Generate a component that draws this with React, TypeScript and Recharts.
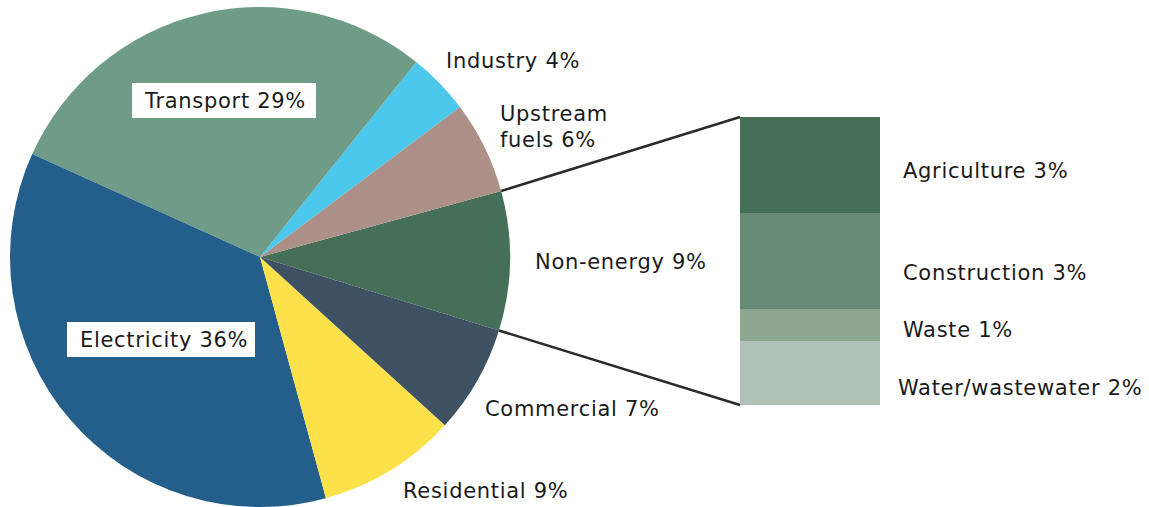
import { PieChart, Pie, Cell, BarChart, Bar, XAxis, YAxis } from 'recharts'

// main pie: share of emissions by sector (%)
const SECTORS = ['Non-energy', 'Upstream fuels', 'Industry', 'Transport', 'Electricity', 'Residential', 'Commercial']
const SHARES = [9, 6, 4, 29, 36, 9, 7]
const SECTOR_COLORS = ['#466f57', '#ad9087', '#4cc8ec', '#6e9c88', '#245f8b', '#fde14b', '#3e5264']

// breakdown of non-energy (%)
const SUB_NAMES = ['Agriculture', 'Construction', 'Waste', 'Water/wastewater']
const SUB_SHARES = [3, 3, 1, 2]
const SUB_COLORS = ['#466f57', '#698a74', '#8ca690', '#b0c2b7']

const W = 1149
const H = 507
const CX = 260
const CY = 257
const R = 250
const START = -17.1

const BAR_X = 740
const BAR_TOP = 117
const BAR_W = 140
const BAR_H = 288

const FONT = '"DejaVu Sans", sans-serif'
const FS = 21
const LS = 0.7

// label placement per sector: [x, baseline, box width (0 = no box)]
const LABEL_POS: [number, number, number][] = [
  [535, 269, 0],
  [500, 121, 0],
  [446, 68, 0],
  [145, 108, 184],
  [80, 347, 188],
  [403, 498, 0],
  [485, 416, 0],
]
const SUB_LABEL_POS: [number, number][] = [
  [903, 178],
  [903, 280],
  [903, 337],
  [898, 395],
]

const pieData = SECTORS.map((name, i) => ({ name, value: SHARES[i] }))
const barData = [
  Object.fromEntries(SUB_NAMES.map((n, i) => [n, SUB_SHARES[i]])),
]

function renderLabel(props: any) {
  const i = props.index
  const [x, y, boxW] = LABEL_POS[i]
  const name = SECTORS[i]
  if (name === 'Upstream fuels') {
    return (
      <text key={i} x={x} y={y} fontFamily={FONT} fontSize={FS} letterSpacing={LS} fill="#1a1a1a">
        <tspan x={x} y={y}>Upstream</tspan>
        <tspan x={x} y={y + 26}>fuels {SHARES[i]}%</tspan>
      </text>
    )
  }
  return (
    <g key={i}>
      {boxW > 0 && <rect x={x - 13} y={y - 25} width={boxW} height={35} fill="#fff" />}
      <text x={x} y={y} fontFamily={FONT} fontSize={FS} letterSpacing={LS} fill="#1a1a1a">
        {name} {SHARES[i]}%
      </text>
    </g>
  )
}

export default function App() {
  const total = SHARES.reduce((a, b) => a + b, 0)
  const a0 = (START * Math.PI) / 180
  const a1 = ((START + (SHARES[0] / total) * 360) * Math.PI) / 180
  const p0 = { x: CX + R * Math.cos(a0), y: CY - R * Math.sin(a0) }
  const p1 = { x: CX + R * Math.cos(a1), y: CY - R * Math.sin(a1) }

  return (
    <div style={{ position: 'absolute', left: 0, top: 0, width: W, height: H, background: '#fff' }}>
      <div style={{ position: 'absolute', left: 0, top: 0 }}>
        <PieChart width={W} height={H} margin={{ top: 0, right: 0, bottom: 0, left: 0 }}>
          <Pie
            data={pieData}
            dataKey="value"
            cx={CX}
            cy={CY}
            outerRadius={R}
            startAngle={START}
            endAngle={START + 360}
            stroke="none"
            label={renderLabel}
            labelLine={false}
            isAnimationActive={false}
          >
            {pieData.map((d, i) => (
              <Cell key={d.name} fill={SECTOR_COLORS[i]} />
            ))}
          </Pie>
        </PieChart>
      </div>
      <svg width={W} height={H} style={{ position: 'absolute', left: 0, top: 0, pointerEvents: 'none' }}>
        <line x1={p1.x} y1={p1.y} x2={BAR_X} y2={BAR_TOP} stroke="#2b2b2b" strokeWidth={2.5} />
        <line x1={p0.x} y1={p0.y} x2={BAR_X} y2={BAR_TOP + BAR_H} stroke="#2b2b2b" strokeWidth={2.5} />
        {SUB_NAMES.map((n, i) => (
          <text key={n} x={SUB_LABEL_POS[i][0]} y={SUB_LABEL_POS[i][1]} fontFamily={FONT} fontSize={FS} letterSpacing={LS} fill="#1a1a1a">
            {n} {SUB_SHARES[i]}%
          </text>
        ))}
      </svg>
      <div style={{ position: 'absolute', left: BAR_X, top: BAR_TOP }}>
        <BarChart width={BAR_W} height={BAR_H} data={barData} margin={{ top: 0, right: 0, bottom: 0, left: 0 }} barCategoryGap={0}>
          <XAxis hide dataKey={() => 'x'} />
          <YAxis hide domain={[0, 9]} />
          {[...SUB_NAMES].reverse().map((n) => (
            <Bar key={n} dataKey={n} stackId="s" fill={SUB_COLORS[SUB_NAMES.indexOf(n)]} isAnimationActive={false} />
          ))}
        </BarChart>
      </div>
    </div>
  )
}
